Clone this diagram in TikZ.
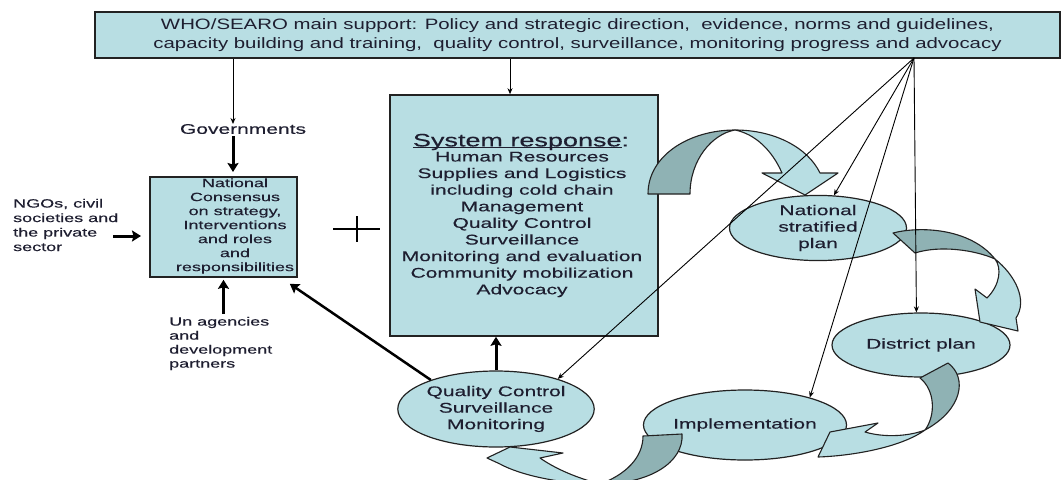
\documentclass[tikz,border=0pt]{standalone}
\usepackage{fontspec}
\setmainfont{Liberation Sans}
\newfontfamily\wf[FakeStretch=1.5,FakeBold=0.3]{Liberation Sans}
\newfontfamily\tf[FakeStretch=1.36]{Liberation Sans}
\usetikzlibrary{arrows.meta,shapes.geometric}
\definecolor{boxfill}{HTML}{B8DEE3}
\definecolor{bandshade}{HTML}{8FB2B4}
\definecolor{ink}{HTML}{1E1E30}
\definecolor{edge}{HTML}{222222}
% underline drawn close to the baseline
\newcommand{\baseul}[1]{\begingroup\setbox0\hbox{#1}\rlap{\rule[-2pt]{\wd0}{1.3pt}}\box0\endgroup}
\tikzset{
  box/.style={draw=edge, line width=1.6pt, fill=boxfill, inner sep=0pt},
  oval/.style={ellipse, draw=edge, line width=1.2pt, fill=boxfill, inner sep=0pt,
    text=ink, align=center, font=\wf\fontsize{14}{16.5}\selectfont},
  txt/.style={text=ink, inner sep=0pt},
  thinarrow/.style={draw=black, line width=0.9pt, -{Stealth[length=6pt,width=5pt]}},
  boldarrow/.style={draw=black, line width=3pt, -{Stealth[length=9pt,width=11pt,inset=1.5pt]}},
  bandlight/.style={fill=boxfill, draw=edge, line width=1.1pt, line join=round},
  banddark/.style={fill=bandshade, draw=edge, line width=1.1pt, line join=round},
}
\begin{document}
\begin{tikzpicture}[x=1pt,y=-1pt]
\useasboundingbox (0,0) rectangle (1062,479);
\fill[white] (0,0) rectangle (1062,479);
\clip (0,0) rectangle (1062,479);

% WHO/SEARO support banner
\node[box, minimum width=965pt, minimum height=46pt, text=ink, align=center,
  font=\tf\fontsize{15}{19}\selectfont] (who) at (577.5,35)
  {WHO/SEARO main support: Policy and strategic direction,\ \ evidence, norms and guidelines,\\
   capacity building and training,\ \ quality control, surveillance, monitoring progress and advocacy};
\coordinate (fan) at (914,58);

% national consensus block and its inputs
\node[box, minimum width=147pt, minimum height=100pt] (cons) at (223.5,227) {};
\node[txt, align=center, font=\wf\fontsize{12}{14}\selectfont] (consT) at (235,226)
  {National\\Consensus\\on strategy,\\Interventions\\and roles\\and\\responsibilities};
\node[txt, font=\wf\fontsize{14}{16}\selectfont] (gov) at (243,129) {Governments};
\node[txt, anchor=west, align=left, font=\wf\fontsize{12}{14.5}\selectfont] (ngo) at (13,225)
  {NGOs, civil\\societies and\\the private\\sector};
\node[txt, anchor=west, align=left, font=\wf\fontsize{12}{14}\selectfont] (un) at (169,343.5)
  {Un agencies\\and\\development\\partners};

% system response block
\node[box, minimum width=268pt, minimum height=241pt] (sys) at (524,215.5) {};
\node[txt, font=\wf\fontsize{18}{20}\selectfont] (sysHead) at (521,142) {\baseul{System response}:};
\node[txt, align=center, font=\wf\fontsize{14}{16.6}\selectfont] (sysList) at (522,224.5)
  {Human Resources\\Supplies and Logistics\\including cold chain\\Management\\Quality Control\\
   Surveillance\\Monitoring and evaluation\\Community mobilization\\Advocacy};

% plus sign between the two blocks
\draw[line width=2.8pt] (333,229) -- (380,229) (357,216) -- (357,242);

% planning cycle
\node[oval, minimum width=176pt, minimum height=76pt] (qc) at (496,409)
  {Quality Control\\Surveillance\\Monitoring};
\node[oval, minimum width=176pt, minimum height=70pt] (impl) at (745,425) {Implementation};
\node[oval, minimum width=177pt, minimum height=63pt] (nsp) at (818,228)
  {National\\stratified\\plan};
\node[oval, minimum width=178pt, minimum height=64pt] (dist) at (921,345) {District plan};

% curved block arrows of the cycle
\draw[banddark] (648,194) .. controls (648,155) and (690,130) .. (735,130)
  .. controls (712,134) and (690,160) .. (690,194) -- cycle;
\draw[bandlight] (735,130) .. controls (775,130) and (808,148) .. (820,173) -- (838,173)
  -- (805,195) -- (762,173) -- (782,173) .. controls (772,150) and (755,134) .. (735,130) -- cycle;

\draw[banddark] (893,233) .. controls (920,226) and (970,228) .. (995,259)
  .. controls (975,250) and (940,245) .. (915,253) -- cycle;
\draw[bandlight] (995,259) .. controls (1015,275) and (1028,300) .. (1016,318) -- (1018,331)
  -- (980,322) -- (975,289) -- (987,298) .. controls (1000,285) and (1002,268) .. (995,259) -- cycle;

\draw[banddark] (920,378) -- (948,363) .. controls (968,378) and (962,410) .. (925,430)
  .. controls (936,415) and (935,390) .. (920,378) -- cycle;
\draw[bandlight] (925,430) .. controls (900,448) and (850,456) .. (818,457) -- (830,432)
  -- (878,423) -- (865,432) .. controls (885,438) and (910,436) .. (925,430) -- cycle;

\draw[banddark] (643,436) -- (682,434) .. controls (684,462) and (650,484) .. (600,484)
  .. controls (625,475) and (643,458) .. (643,436) -- cycle;
\draw[bandlight] (600,484) .. controls (560,484) and (520,475) .. (500,464) -- (487,458)
  -- (510,447) -- (563,453) -- (540,458) .. controls (560,472) and (585,480) .. (600,484) -- cycle;

% support flows
\draw[thinarrow] (who.south -| 233,0) -- (233,124);
\draw[boldarrow] (233,136) -- (233,172);
\draw[thinarrow] (who.south -| 510,0) -- ([xshift=-14pt]sys.north);
\draw[boldarrow] (113,236) -- (141,236);
\draw[boldarrow] (un.north -| cons.south) ++(0,-3) -- ([yshift=-2pt]cons.south);
\draw[boldarrow] (qc.north) -- (qc.north |- sys.south);
\draw[boldarrow, line width=2.5pt] (qc.156) -- ([xshift=-8pt,yshift=-6pt]cons.south east);

% fan of WHO/SEARO support lines
\draw[thinarrow] (fan) -- (qc.26);
\draw[thinarrow] (fan) -- (nsp.64);
\draw[thinarrow] (fan) -- (impl.23);
\draw[thinarrow] (fan) -- (dist.98);
\end{tikzpicture}
\end{document}
